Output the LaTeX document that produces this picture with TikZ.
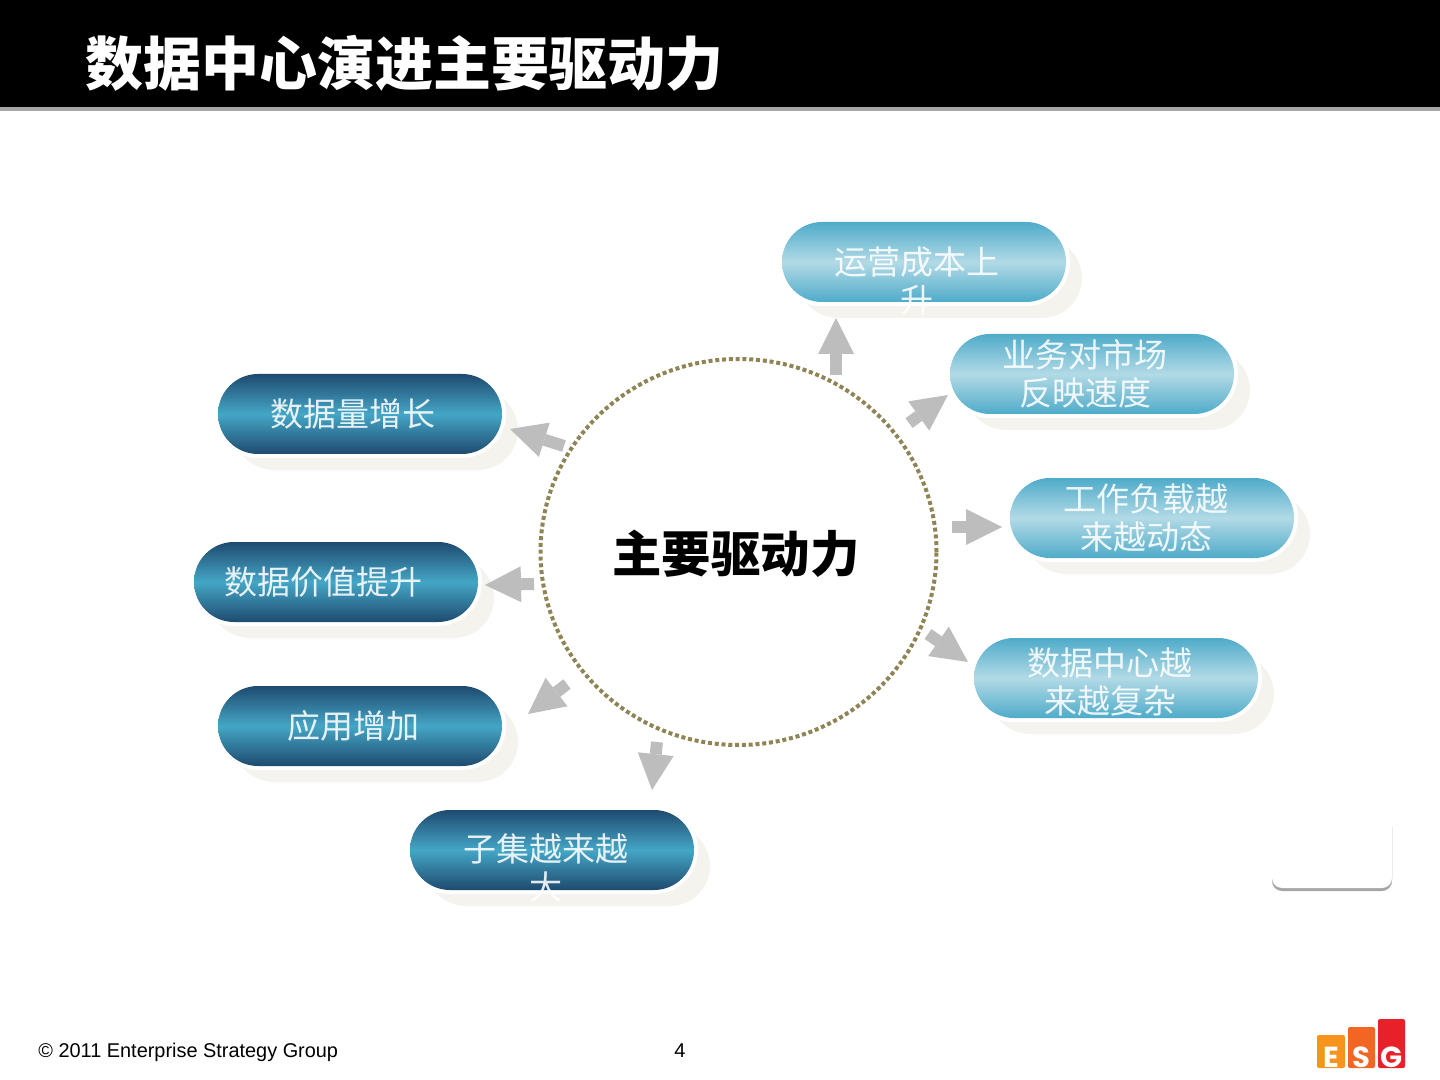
\documentclass[tikz,border=0pt]{standalone}
\usepackage{fontspec}
\usetikzlibrary{shapes.geometric,shapes.misc,arrows.meta,calc}
\newfontfamily\cjk{Noto Sans CJK SC}
\newfontfamily\footfont{Liberation Sans}
\newfontfamily\logofont{Poppins}
\definecolor{pdark}{HTML}{1F4A70}
\definecolor{pmid}{HTML}{44A6C6}
\definecolor{ltedge}{HTML}{4FABC9}
\definecolor{ltmid}{HTML}{B2DAE6}
\definecolor{shadowc}{HTML}{F4F3EE}
\definecolor{dotc}{HTML}{8F8455}
\definecolor{arrowc}{HTML}{BDBDBD}
\definecolor{esgone}{HTML}{F7941D}
\definecolor{esgtwo}{HTML}{F26522}
\definecolor{esgthree}{HTML}{E8202A}
\tikzset{
  pillbase/.style={shape=rounded rectangle,minimum width=142pt,minimum height=40pt,inner sep=0pt,outer sep=0pt},
  pillshadow/.style={pillbase,fill=shadowc},
  pillring/.style={pillbase,minimum width=146pt,minimum height=44pt,fill=white},
  darkpill/.style={pillbase,top color=pdark,bottom color=pdark,middle color=pmid},
  lightpill/.style={pillbase,top color=ltedge,bottom color=ltedge,middle color=ltmid},
  pilltext/.style={text=white,text opacity=0.88,align=center,inner sep=0pt,font=\cjk\fontsize{16.5}{19}\selectfont},
  blockarrow/.style={draw=arrowc,line width=6pt,-{Triangle[length=18pt,width=18pt,line width=0pt,fill=arrowc]}},
  hubring/.style={shape=ellipse,draw=dotc,line width=2pt,dash pattern=on 2pt off 1.4pt,minimum width=198pt,minimum height=193pt,inner sep=0pt,outer sep=0pt},
  logobar/.style={rounded corners=1pt},
  logoletter/.style={text=white,inner sep=0pt,font=\logofont\bfseries\fontsize{14.5}{15}\selectfont}
}
\newcommand{\mypill}[3]{%
  \node[pillshadow] (#1s) at ($(#3)+(16,16)$) {};
  \node[pillring] (#1r) at (#3) {};
  \node[#2] (#1) at (#3) {};
}
\begin{document}
\begin{tikzpicture}[x=0.5pt,y=-0.5pt]
\useasboundingbox (0,0) rectangle (1440,1080);
% header
\fill[black] (0,0) rectangle (1440,107);
\fill[black!35] (0,107) rectangle (1440,111);
\node[anchor=west,text=white,inner sep=0pt,font=\cjk\bfseries\fontsize{29}{29}\selectfont] (title) at (85,63) {数据中心演进主要驱动力};
% pills
\mypill{p1}{lightpill}{924,262}
\mypill{p2}{lightpill}{1092,374}
\mypill{p3}{lightpill}{1152,518}
\mypill{p4}{lightpill}{1116,678}
\mypill{p5}{darkpill}{360,414}
\mypill{p6}{darkpill}{336,582}
\mypill{p7}{darkpill}{360,726}
\mypill{p8}{darkpill}{552,850}
\node[pilltext,anchor=north] (t1) at (917,246.5) {运营成本上\\升};
\node[pilltext,anchor=north] (t2) at (1085,339.5) {业务对市场\\反映速度};
\node[pilltext,anchor=north] (t3) at (1146,483.5) {工作负载越\\来越动态};
\node[pilltext,anchor=north] (t4) at (1110,647.5) {数据中心越\\来越复杂};
\node[pilltext,anchor=north] (t5) at (353,398.5) {数据量增长};
\node[pilltext,anchor=north] (t6) at (323,566.5) {数据价值提升};
\node[pilltext,anchor=north] (t7) at (353,710.5) {应用增加};
\node[pilltext,anchor=north] (t8) at (546,833.5) {子集越来越\\大};
% hub
\node[hubring] (hub) at (738.5,552) {};
\node[inner sep=0pt,font=\cjk\bfseries\fontsize{24.7}{24.7}\selectfont] (hubtext) at (736,554) {主要驱动力};
% arrows
\coordinate (a1s) at (836,375); \coordinate (a1e) at (836,318);
\coordinate (a2s) at (909,423); \coordinate (a2e) at (948,395);
\coordinate (a3s) at (952,527); \coordinate (a3e) at (1002,527);
\coordinate (a4s) at (928,634); \coordinate (a4e) at (968,662);
\coordinate (a5s) at (564,446); \coordinate (a5e) at (510,429);
\coordinate (a6s) at (534,584); \coordinate (a6e) at (485,585);
\coordinate (a7s) at (567,684); \coordinate (a7e) at (528,714);
\coordinate (a8s) at (657,742); \coordinate (a8e) at (652,790);
\foreach \i in {1,...,8}{\draw[blockarrow] (a\i s) -- (a\i e);}
% small box
\fill[black!35,rounded corners=5pt] (1272,860) rectangle (1392,891);
\fill[white,rounded corners=5pt] (1272,827) rectangle (1392,888);
\draw[black!8,line width=0.5pt] (1392,827) -- (1392,878);
% footer
\node[anchor=west,inner sep=0pt,font=\footfont\fontsize{9.95}{10}\selectfont] (foot) at (38,1052) {© 2011 Enterprise Strategy Group};
\node[inner sep=0pt,font=\footfont\fontsize{10}{10}\selectfont] (page) at (680,1051) {4};
% logo
\fill[logobar,fill=esgone] (1317,1035) rectangle (1345,1068);
\fill[logobar,fill=esgtwo] (1348,1027) rectangle (1375,1068);
\fill[logobar,fill=esgthree] (1378,1019) rectangle (1405,1068);
\node[logoletter,anchor=base] (le) at (1331,1067) {E};
\node[logoletter,anchor=base] (ls) at (1361.5,1067) {S};
\node[logoletter,anchor=base] (lg) at (1391.5,1067) {G};
\end{tikzpicture}
\end{document}
